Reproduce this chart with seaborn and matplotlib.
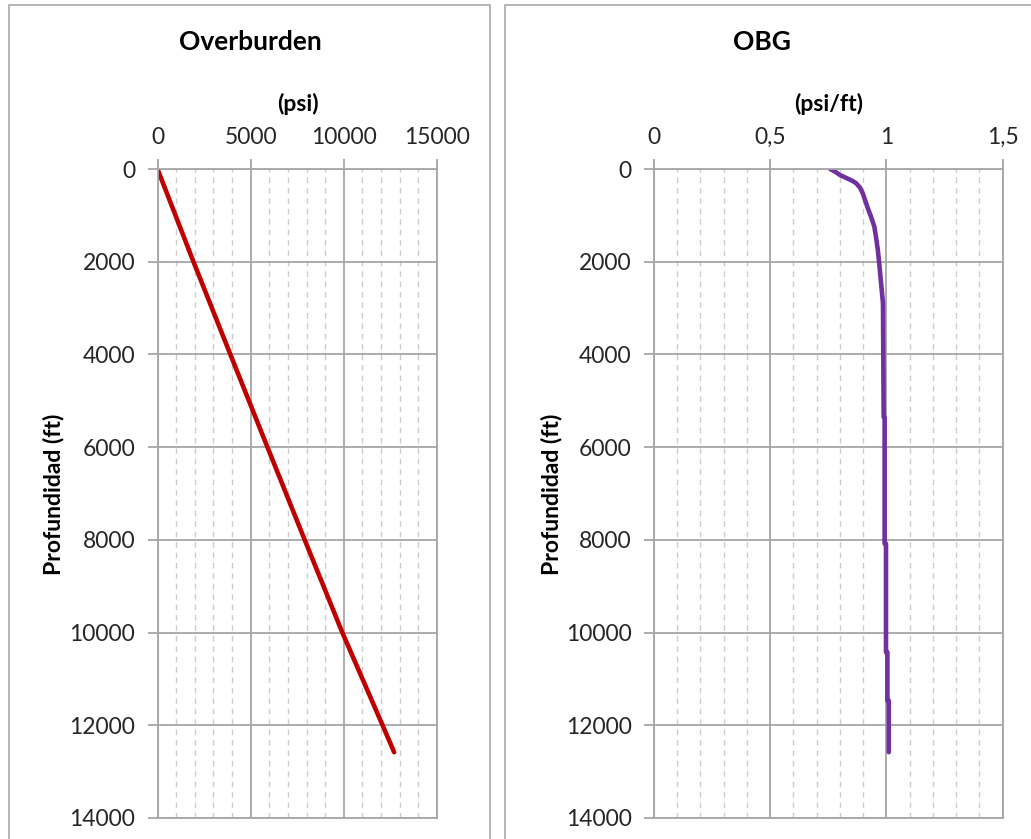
import matplotlib
matplotlib.use("Agg")
import matplotlib.pyplot as plt
from matplotlib.patches import Rectangle
from matplotlib.ticker import MultipleLocator, FuncFormatter
import seaborn as sns
import pandas as pd

# Overburden pressure vs depth
ob_depth_ft = [0, 2000, 4000, 6000, 8000, 10000, 12000, 12580]
ob_psi = [0, 1930, 3910, 5900, 7900, 9920, 12080, 12700]

# Overburden gradient vs depth (stepped log-derived values)
obg_depth_ft = [0, 60, 130, 200, 260, 310, 400, 525, 700, 850, 1050, 1245,
                1500, 1750, 2100, 2470, 2900,
                5350, 5350, 8080, 8080, 10425, 10425, 11470, 11470, 12580]
obg_psi_ft = [0.758, 0.780, 0.800, 0.830, 0.855, 0.870, 0.886, 0.898, 0.910,
              0.920, 0.935, 0.948, 0.956, 0.963, 0.970, 0.977, 0.985,
              0.988, 0.992, 0.992, 0.998, 0.998, 1.004, 1.004, 1.010, 1.010]

W, H = 1031, 839
sns.set_theme(style="white")
plt.rcParams["font.family"] = ["Lato", "DejaVu Sans"]

GRID = "#A6A6A6"
MINOR = "#CCCCCC"
TEXT = "#262626"
TICK_FS = 16.5
LABEL_FS = 16.5
TITLE_FS = 19

fig = plt.figure(figsize=(W / 100, H / 100), dpi=100)
fig.patch.set_facecolor("white")

# chart frames
for x0, x1 in [(9, 490), (505, 1045)]:
    fig.add_artist(Rectangle((x0 / W, -0.05), (x1 - x0) / W, 1.05 - 5 / H,
                             transform=fig.transFigure, fill=False,
                             ec="#B0B0B0", lw=1.3))

ax1 = fig.add_axes([157.5 / W, 1 - 818 / H, (437 - 157.5) / W, (818 - 169) / H])
ax2 = fig.add_axes([654 / W, 1 - 818 / H, (1002.7 - 654) / W, (818 - 169) / H])

df_ob = pd.DataFrame({"Overburden": ob_psi, "Profundidad": ob_depth_ft})
df_obg = pd.DataFrame({"OBG": obg_psi_ft, "Profundidad": obg_depth_ft})

sns.lineplot(data=df_ob, x="Overburden", y="Profundidad", sort=False,
             estimator=None, color="#C00000", lw=3.3, ax=ax1)
sns.lineplot(data=df_obg, x="OBG", y="Profundidad", sort=False,
             estimator=None, color="#7030A0", lw=3.3, ax=ax2)


def comma(v, pos):
    s = f"{v:g}"
    return s.replace(".", ",")


for ax, xmax, major, minor in [(ax1, 15000, 5000, 1000), (ax2, 1.5, 0.5, 0.1)]:
    ax.set_xlim(0, xmax)
    ax.set_ylim(14000, 0)
    ax.xaxis.set_major_locator(MultipleLocator(major))
    ax.xaxis.set_minor_locator(MultipleLocator(minor))
    ax.yaxis.set_major_locator(MultipleLocator(2000))
    ax.xaxis.tick_top()
    ax.set_xlabel("")
    ax.set_ylabel("")
    ax.grid(which="major", color=GRID, lw=1.3)
    ax.grid(which="minor", axis="x", color=MINOR, lw=1.0, ls=(0, (4, 3.5)))
    ax.set_axisbelow(True)
    for sp in ax.spines.values():
        sp.set_color(GRID)
        sp.set_linewidth(1.3)
    ax.tick_params(axis="x", which="major", top=True, bottom=False,
                   labeltop=True, labelbottom=False, length=7, width=1.3,
                   color=GRID, pad=8, labelsize=TICK_FS, labelcolor=TEXT)
    ax.tick_params(axis="y", which="major", left=True, length=7, width=1.3,
                   color=GRID, pad=9, labelsize=TICK_FS, labelcolor=TEXT)
    ax.tick_params(which="minor", length=0)

ax2.xaxis.set_major_formatter(FuncFormatter(comma))

# titles, axis units and depth labels
fig.text(250 / W, 1 - 42 / H, "Overburden", ha="center", va="center",
         fontsize=TITLE_FS, fontweight="bold", color="black")
fig.text(762 / W, 1 - 42 / H, "OBG", ha="center", va="center",
         fontsize=TITLE_FS, fontweight="bold", color="black")
fig.text(297.5 / W, 1 - 104 / H, "(psi)", ha="center", va="center",
         fontsize=LABEL_FS, fontweight="bold", color="black")
fig.text(828.5 / W, 1 - 104 / H, "(psi/ft)", ha="center", va="center",
         fontsize=LABEL_FS, fontweight="bold", color="black")
for xc in (54, 551):
    fig.text(xc / W, 1 - 494 / H, "Profundidad (ft)", ha="center", va="center",
             rotation=90, fontsize=LABEL_FS, fontweight="bold", color="black")

fig.savefig("out.png", dpi=100, facecolor="white")
